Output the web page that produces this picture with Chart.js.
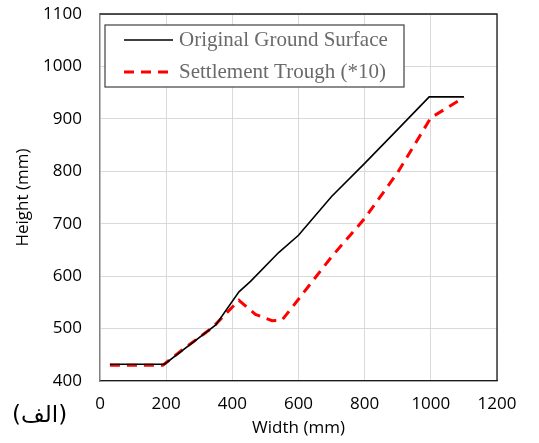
<!DOCTYPE html>
<html>
<head>
<meta charset="utf-8">
<script src="https://cdn.jsdelivr.net/npm/chart.js@4/dist/chart.umd.min.js"></script>
<style>
  body { margin: 0; background: #fff; }
  .wrap { position: relative; width: 539px; height: 443px; }
  #figLabel {
    position: absolute; left: 12px; top: 401px;
    font-family: "DejaVu Sans"; font-size: 23px; color: #000;
  }
</style>
</head>
<body>
<div class="wrap">
  <canvas id="myChart" width="539" height="443"></canvas>
  <div id="figLabel" dir="rtl">(الف)</div>
</div>
<script>
// values (mm)
const groundWidth  = [30, 195, 350, 420, 455, 540, 600, 700, 800, 900, 995, 1100];
const groundHeight = [432, 432, 507, 570, 590, 645, 678, 752, 815, 880, 942, 942];

const troughWidth  = [30, 190, 250, 340, 420, 470, 520, 550, 600, 700, 800, 900, 1000, 1100];
const troughHeight = [430, 430, 460, 502, 554, 527, 515, 516, 556, 637, 710, 798, 902, 941];

const xTicks = [0, 200, 400, 600, 800, 1000, 1200];
const yTicks = [400, 500, 600, 700, 800, 900, 1000, 1100];

const toPoints = (xs, ys) => xs.map((x, i) => ({ x: x, y: ys[i] }));

// legend drawn as a box inside the plot, like the original
const boxLegend = {
  id: 'boxLegend',
  afterDraw(chart) {
    const ctx = chart.ctx;
    const area = chart.chartArea;

    // frame top + right
    ctx.save();
    ctx.strokeStyle = '#1a1a1a';
    ctx.lineWidth = 1.3;
    ctx.beginPath();
    ctx.moveTo(area.left, area.top);
    ctx.lineTo(area.right, area.top);
    ctx.lineTo(area.right, area.bottom);
    ctx.stroke();

    const bx = area.left + 5, by = area.top + 11, bw = 299, bh = 62;
    ctx.fillStyle = '#fff';
    ctx.fillRect(bx, by, bw, bh);
    ctx.strokeStyle = '#404040';
    ctx.lineWidth = 1.2;
    ctx.strokeRect(bx, by, bw, bh);

    chart.data.datasets.forEach((ds, i) => {
      const ly = by + 15 + i * 32;
      ctx.beginPath();
      ctx.setLineDash(ds.borderDash || []);
      ctx.strokeStyle = ds.borderColor;
      ctx.lineWidth = ds.borderWidth;
      ctx.moveTo(bx + 19, ly);
      ctx.lineTo(bx + 68, ly);
      ctx.stroke();
      ctx.setLineDash([]);
      ctx.fillStyle = '#6a6a6a';
      ctx.font = '21px "Liberation Serif"';
      ctx.textBaseline = 'middle';
      ctx.fillText(ds.label, bx + 74, ly);
    });
    ctx.restore();
  }
};

const plainNumber = (v) => String(v);

const ctx = document.getElementById('myChart').getContext('2d');
const myChart = new Chart(ctx, {
  type: 'line',
  data: {
    datasets: [{
      label: 'Original Ground Surface',
      data: toPoints(groundWidth, groundHeight),
      borderColor: '#000',
      borderWidth: 1.6,
      pointRadius: 0,
      fill: false
    },
    {
      label: 'Settlement Trough (*10)',
      data: toPoints(troughWidth, troughHeight),
      borderColor: '#ff0000',
      borderWidth: 3,
      borderDash: [10, 7],
      pointRadius: 0,
      fill: false
    }]
  },
  options: {
    responsive: false,
    animation: false,
    layout: { padding: { left: 0, top: 0, right: 42, bottom: 0 } },
    plugins: {
      legend: { display: false },
      tooltip: { enabled: false }
    },
    scales: {
      x: {
        type: 'linear',
        min: xTicks[0],
        max: xTicks[xTicks.length - 1],
        afterBuildTicks: (axis) => { axis.ticks = xTicks.map(v => ({ value: v })); },
        afterFit: (axis) => { axis.height = 62; },
        grid: { color: '#d9d9d9', drawTicks: false },
        border: { color: '#1a1a1a', width: 1.3 },
        ticks: {
          padding: 13,
          color: '#000',
          callback: plainNumber,
          font: { family: 'Open Sans', size: 17 }
        },
        title: {
          display: true,
          text: 'Width (mm)',
          color: '#000',
          padding: { top: 0, bottom: 5 },
          font: { family: 'Open Sans', size: 17 }
        }
      },
      y: {
        type: 'linear',
        min: yTicks[0],
        max: yTicks[yTicks.length - 1],
        afterBuildTicks: (axis) => { axis.ticks = yTicks.map(v => ({ value: v })); },
        afterFit: (axis) => {
          axis.width = 100;
          axis.paddingTop = 14;
          axis.paddingBottom = 0;
        },
        grid: { color: '#d9d9d9', drawTicks: false },
        border: { color: '#7f7f7f', width: 1.3 },
        ticks: {
          padding: 18,
          color: '#000',
          callback: plainNumber,
          font: { family: 'Open Sans', size: 17 }
        },
        title: {
          display: true,
          text: 'Height (mm)',
          color: '#000',
          padding: { top: 13, bottom: 0 },
          font: { family: 'Open Sans', size: 17 }
        }
      }
    }
  },
  plugins: [boxLegend]
});
</script>
</body>
</html>
